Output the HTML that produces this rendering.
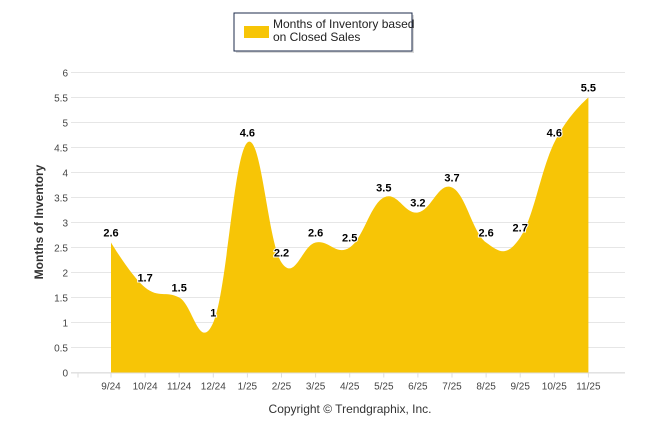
<!DOCTYPE html>
<html><head><meta charset="utf-8"><style>
body{margin:0;background:#fff;font-family:"Liberation Sans",Arial,sans-serif}
svg text{font-family:"Liberation Sans",Arial,sans-serif}
</style></head><body>
<svg id="chart" width="646" height="434" viewBox="0 0 646 434" xmlns="http://www.w3.org/2000/svg">
<g>
<rect x="236" y="15" width="178" height="38" fill="#999" opacity="0.35"/>
<rect x="234" y="13" width="178" height="38" fill="#fff" stroke="#1c2b4b" stroke-width="1"/>
<rect x="244" y="26" width="25" height="12" fill="#f7c506"/>
<text x="273" y="28" font-size="12" fill="#222">Months of Inventory based</text>
<text x="273" y="41" font-size="12" fill="#222">on Closed Sales</text>
</g>
<g id="grid"></g>
<g id="area"></g>
<g id="labels"></g>
<text transform="translate(43,222) rotate(-90)" text-anchor="middle" font-size="12" font-weight="bold" fill="#333">Months of Inventory</text>
<text x="350" y="413" text-anchor="middle" font-size="12" fill="#333">Copyright © Trendgraphix, Inc.</text>
</svg>
<script>
const categories=["9/24","10/24","11/24","12/24","1/25","2/25","3/25","4/25","5/25","6/25","7/25","8/25","9/25","10/25","11/25"];
const values=[2.6,1.7,1.5,1,4.6,2.2,2.6,2.5,3.5,3.2,3.7,2.6,2.7,4.6,5.5];
const yTicks=[0,0.5,1,1.5,2,2.5,3,3.5,4,4.5,5,5.5,6];
const NS="http://www.w3.org/2000/svg";
const X0=111,STEP=34.1,Y0=372.5,YS=50;
const xs=i=>X0+STEP*i, ys=v=>Y0-v*YS;
function mk(t,a,p){const e=document.createElementNS(NS,t);for(const k in a)e.setAttribute(k,a[k]);p.appendChild(e);return e;}
const grid=document.getElementById('grid');
yTicks.forEach(v=>{
 const l=mk('line',{x1:71,x2:625,y1:ys(v),y2:ys(v),stroke:'#e6e6e6','stroke-width':1},grid);
 
 
 const t=mk('text',{x:68,y:ys(v)+4,'text-anchor':'end','font-size':10,fill:'#444'},grid);
 t.textContent=v;
 
 
});
mk('line',{x1:71,x2:625,y1:Y0+0.5,y2:Y0+0.5,stroke:'#ddd'},grid);
const tk=[78].concat(categories.map((c,i)=>xs(i)));
tk.forEach(x=>mk('line',{x1:x,x2:x,y1:Y0,y2:Y0+5,stroke:'#ddd'},grid));
categories.forEach((c,i)=>{
 const t=mk('text',{x:xs(i),y:Y0+17,'text-anchor':'middle','font-size':10,fill:'#444'},grid);
 t.textContent=c;
 
 
});
const pts=values.map((v,i)=>({x:xs(i),y:ys(v)}));
const sm=1.5,den=sm+1;
pts.forEach((p,i)=>{
 const a=pts[i-1],b=pts[i+1];
 if(a&&b){
  let lx=(sm*p.x+a.x)/den,ly=(sm*p.y+a.y)/den,rx=(sm*p.x+b.x)/den,ry=(sm*p.y+b.y)/den;
  const c=((ry-ly)*(rx-p.x))/(rx-lx)+p.y-ry;ly+=c;ry+=c;
  p.lx=lx;p.ly=ly;p.rx=rx;p.ry=ry;
 }else{p.lx=p.rx=p.x;p.ly=p.ry=p.y;}
});
let d=`M${pts[0].x},${Y0} L${pts[0].x},${pts[0].y}`;
for(let i=1;i<pts.length;i++){const a=pts[i-1],p=pts[i];d+=` C${a.rx},${a.ry} ${p.lx},${p.ly} ${p.x},${p.y}`;}
d+=` L${pts[pts.length-1].x},${Y0} Z`;
const area=mk('path',{d:d,fill:'#f7c506'},document.getElementById('area'));


const lg=document.getElementById('labels');
values.forEach((v,i)=>{
 const t=mk('text',{x:xs(i),y:ys(v)-6,'text-anchor':'middle','font-size':11,'font-weight':'bold',fill:'#000',stroke:'#fff','stroke-width':2,'paint-order':'stroke'},lg);
 t.textContent=v;
 
 
});
</script>
</body></html>
